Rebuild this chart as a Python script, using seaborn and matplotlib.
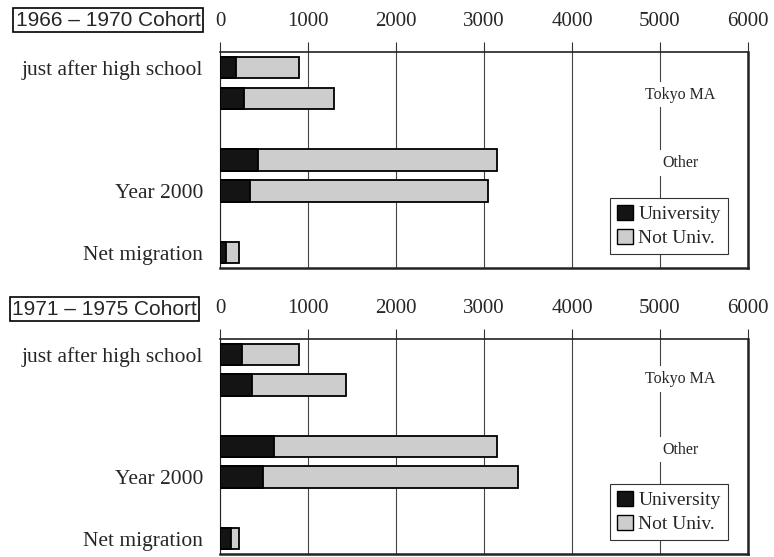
import matplotlib
matplotlib.use('Agg')
import matplotlib.pyplot as plt
from matplotlib.patches import Patch
import seaborn as sns

# bar slots on the y axis (gaps between the three groups)
slots = [0, 1, 3, 4, 6]
label_slots = [0, 4, 6]
row_labels = ['just after high school', 'Year 2000', 'Net migration']
xticks = [0, 1000, 2000, 3000, 4000, 5000, 6000]

cohorts = ['1966 \u2013 1970 Cohort', '1971 \u2013 1975 Cohort']
# University / Not Univ. per bar
univ_6670 = [183, 270, 430, 343, 69]
notuniv_6670 = [717, 1030, 2720, 2697, 146]
univ_7175 = [255, 361, 615, 486, 122]
notuniv_7175 = [645, 1071, 2529, 2901, 94]

region_text = ['Tokyo MA', 'Other']
region_y = {0: [0.88, 3.1], 1: [0.8, 3.1]}

dark = '#141414'
light = '#cdcdcd'

sns.set_style('white')
plt.rcParams['font.family'] = ['Liberation Serif', 'DejaVu Serif']

fig = plt.figure(figsize=(7.74, 5.57), dpi=100)
ax_top = fig.add_axes([0.2842, 0.5189, 0.6822, 0.3877])
ax_bot = fig.add_axes([0.2842, 0.0054, 0.6822, 0.3860])

data = [(univ_6670, notuniv_6670), (univ_7175, notuniv_7175)]
for i, ax in enumerate([ax_top, ax_bot]):
    univ, notuniv = data[i]
    total = [u + n for u, n in zip(univ, notuniv)]
    sns.barplot(x=total, y=slots, orient='y', native_scale=True, width=0.7,
                color=light, saturation=1, edgecolor='black', linewidth=1.3,
                ax=ax, zorder=3)
    sns.barplot(x=univ, y=slots, orient='y', native_scale=True, width=0.7,
                color=dark, saturation=1, edgecolor='black', linewidth=1.3,
                ax=ax, zorder=4)
    ax.set_xlim(0, 6000)
    ax.set_ylim(6.5, -0.5)
    ax.set_xlabel('')
    ax.set_ylabel('')
    ax.xaxis.tick_top()
    ax.set_xticks(xticks)
    ax.set_xticklabels([str(t) for t in xticks])
    ax.tick_params(axis='x', top=True, bottom=False, length=7, width=0.8,
                   color='#333333', pad=8, labelsize=15)
    ax.set_yticks(label_slots)
    ax.set_yticklabels(row_labels)
    ax.tick_params(axis='y', left=False, length=0, pad=12, labelsize=15.5)
    ax.grid(axis='x', color='#444444', lw=0.8)
    ax.set_axisbelow(True)
    ax.spines['top'].set_linewidth(1.2)
    ax.spines['bottom'].set_linewidth(1.8)
    ax.spines['right'].set_linewidth(1.8)
    ax.spines['left'].set_linewidth(0.8)
    for s in ax.spines.values():
        s.set_color('#222222')

    for txt, yy in zip(region_text, region_y[i]):
        ax.text(5230, yy, txt, ha='center', va='center', fontsize=11.5,
                bbox=dict(boxstyle='square,pad=0.3', fc='white', ec='none'),
                zorder=5)

    handles = [Patch(facecolor=dark, edgecolor='black', label='University'),
               Patch(facecolor=light, edgecolor='black', label='Not Univ.')]
    leg = ax.legend(handles=handles, loc='lower left',
                    bbox_to_anchor=(0.739, 0.065), fontsize=14,
                    frameon=True, fancybox=False, framealpha=1,
                    edgecolor='#333333', handlelength=0.8, handleheight=0.8,
                    handletextpad=0.3, borderpad=0.35, labelspacing=0.3,
                    borderaxespad=0)
    leg.get_frame().set_linewidth(0.8)
    leg.set_zorder(6)

# cohort boxes in the top left corner
fig.text(0.1395, 0.964, cohorts[0], family='Liberation Sans', fontsize=15,
         ha='center', va='center',
         bbox=dict(boxstyle='square,pad=0.12', fc='white', ec='black', lw=1.2))
fig.text(0.135, 0.445, cohorts[1], family='Liberation Sans', fontsize=15,
         ha='center', va='center',
         bbox=dict(boxstyle='square,pad=0.12', fc='white', ec='black', lw=1.2))

fig.savefig('out.png', dpi=100)
